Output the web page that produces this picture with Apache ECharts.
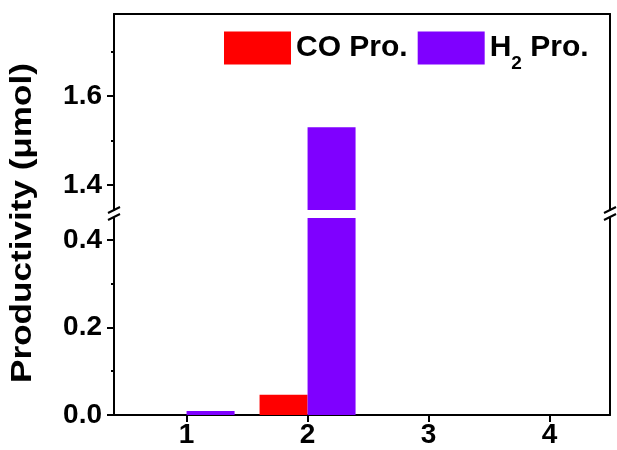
<!DOCTYPE html>
<html>
<head>
<meta charset="utf-8">
<script src="https://cdn.jsdelivr.net/npm/echarts@6/dist/echarts.min.js"></script>
<style>html,body{margin:0;padding:0;background:#fff}#c{width:617px;height:450px}</style>
</head>
<body>
<div id="c"></div>
<script>
// ---- data ----
const categories = [1, 2, 3, 4];
const coPro = [0, 0.046, 0, 0];
const h2Pro = [0.009, 1.53, 0, 0];
const upperLabels = [1.4, 1.6];
const upperMinor = [1.5, 1.7];
const lowerLabels = [0.0, 0.2, 0.4];
const lowerMinor = [0.1, 0.3];
const lowerRange = [0, 0.45];
const upperRange = [1.344, 1.785];
const xRange = [0.4, 4.5];

// ---- layout / style ----
const FONT = '"Liberation Sans", Arial, sans-serif';
const L = 114, R = 610, T0 = 14, B0 = 210, T1 = 218, B1 = 415;
const RED = '#ff0000', PURPLE = '#7f00ff';

const pairs = arr => categories.map((c, i) => [c, arr[i]]);
const fmt = v => Number(v).toFixed(1);

function mainY(grid, range, labels) {
  return {
    type: 'value', gridIndex: grid, min: range[0], max: range[1], position: 'left',
    axisLine: { show: true, lineStyle: { color: '#000', width: 2 } },
    axisTick: { show: true, customValues: labels, length: 7, lineStyle: { color: '#000', width: 2 } },
    axisLabel: { show: true, customValues: labels, formatter: fmt, margin: 12,
      color: '#000', fontFamily: FONT, fontWeight: 'bold', fontSize: 28 },
    splitLine: { show: false }
  };
}
function minorY(grid, range, ticks) {
  return {
    type: 'value', gridIndex: grid, min: range[0], max: range[1], position: 'left',
    axisLine: { show: false },
    axisTick: { show: true, customValues: ticks, length: 3, lineStyle: { color: '#000', width: 2 } },
    axisLabel: { show: false }, splitLine: { show: false }
  };
}
function borderY(grid, range) {
  return {
    type: 'value', gridIndex: grid, min: range[0], max: range[1], position: 'right',
    axisLine: { show: true, lineStyle: { color: '#000', width: 2 } },
    axisTick: { show: false }, axisLabel: { show: false }, splitLine: { show: false }
  };
}

function slash(x, y) {
  return { type: 'line', shape: { x1: x - 6, y1: y + 3, x2: x + 6, y2: y - 3 },
    style: { stroke: '#000', lineWidth: 2 }, z: 100 };
}

const chart = echarts.init(document.getElementById('c'), null, { renderer: 'canvas' });
chart.setOption({
  animation: false,
  backgroundColor: '#fff',
  grid: [
    { left: L, right: 617 - R, top: T0, height: B0 - T0 },
    { left: L, right: 617 - R, top: T1, height: B1 - T1 }
  ],
  xAxis: [
    { type: 'value', gridIndex: 0, min: xRange[0], max: xRange[1], position: 'top',
      axisLine: { show: true, lineStyle: { color: '#000', width: 2 } },
      axisTick: { show: false }, axisLabel: { show: false }, splitLine: { show: false } },
    { type: 'value', gridIndex: 1, min: xRange[0], max: xRange[1], position: 'bottom',
      axisLine: { show: true, onZero: false, lineStyle: { color: '#000', width: 2 } },
      axisTick: { show: true, customValues: categories, length: 7, lineStyle: { color: '#000', width: 2 } },
      axisLabel: { show: true, customValues: categories, margin: 6, color: '#000',
        fontFamily: FONT, fontWeight: 'bold', fontSize: 28 },
      splitLine: { show: false } }
  ],
  yAxis: [
    mainY(0, upperRange, upperLabels),
    minorY(0, upperRange, upperMinor),
    borderY(0, upperRange),
    mainY(1, lowerRange, lowerLabels),
    minorY(1, lowerRange, lowerMinor),
    borderY(1, lowerRange)
  ],
  legend: {
    left: 219, top: 18, orient: 'horizontal',
    data: ['CO Pro.', 'H2 Pro.'],
    icon: 'rect', itemWidth: 67, itemHeight: 33, itemGap: 10,
    selectedMode: false,
    formatter: n => n === 'H2 Pro.' ? 'H{sub|2} Pro.' : n,
    textStyle: { color: '#000', fontFamily: FONT, fontWeight: 'bold', fontSize: 30, lineHeight: 50,
      rich: { sub: { fontFamily: FONT, fontWeight: 'bold', fontSize: 19, color: '#000',
        lineHeight: 19, verticalAlign: 'bottom' } } }
  },
  series: [
    { name: 'CO Pro.', type: 'bar', xAxisIndex: 0, yAxisIndex: 0, data: pairs(coPro),
      barWidth: 48, barGap: '0%', clip: true, itemStyle: { color: RED } },
    { name: 'H2 Pro.', type: 'bar', xAxisIndex: 0, yAxisIndex: 0, data: pairs(h2Pro),
      barWidth: 48, barGap: '0%', clip: true, itemStyle: { color: PURPLE } },
    { name: 'CO Pro.', type: 'bar', xAxisIndex: 1, yAxisIndex: 3, data: pairs(coPro),
      barWidth: 48, barGap: '0%', clip: true, itemStyle: { color: RED } },
    { name: 'H2 Pro.', type: 'bar', xAxisIndex: 1, yAxisIndex: 3, data: pairs(h2Pro),
      barWidth: 48, barGap: '0%', clip: true, itemStyle: { color: PURPLE } }
  ],
  graphic: [
    { type: 'text', x: 23, y: 223, rotation: Math.PI / 2, scaleX: 1.17,
      style: { text: 'Productivity (μmol)', fill: '#000', font: 'bold 30px ' + FONT,
        textAlign: 'center', textVerticalAlign: 'middle' } },
    slash(L, B0), slash(L, T1 - 1),
    slash(R, B0), slash(R, T1 - 1)
  ]
});
</script>
</body>
</html>
